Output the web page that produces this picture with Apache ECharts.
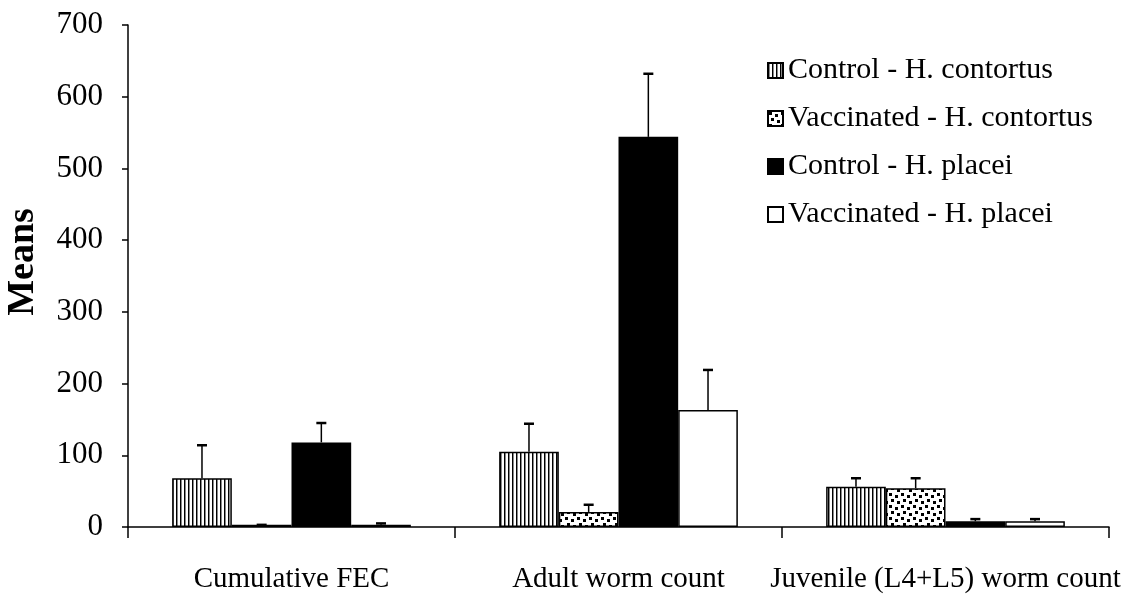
<!DOCTYPE html>
<html>
<head>
<meta charset="utf-8">
<script src="https://cdn.jsdelivr.net/npm/echarts@6/dist/echarts.min.js"></script>
<style>html,body{margin:0;padding:0;background:#fff}#c{width:1133px;height:596px}</style>
</head>
<body>
<div id="c"></div>
<script>
const categories = ['Cumulative FEC', 'Adult worm count', 'Juvenile (L4+L5) worm count'];
const seriesNames = ['Control - H. contortus', 'Vaccinated - H. contortus', 'Control - H. placei', 'Vaccinated - H. placei'];
const controlContortus = [68, 105, 56];
const vaccinatedContortus = [3, 21, 54];
const controlPlacei = [118, 544, 8];
const vaccinatedPlacei = [3, 163, 8];
const errControlContortus = [46, 39, 12];
const errVaccinatedContortus = [0, 10, 14];
const errControlPlacei = [27, 88, 3];
const errVaccinatedPlacei = [2, 56, 3];
const yTicks = [0, 100, 200, 300, 400, 500, 600, 700];

const values = [controlContortus, vaccinatedContortus, controlPlacei, vaccinatedPlacei];
const errors = [errControlContortus, errVaccinatedContortus, errControlPlacei, errVaccinatedPlacei];

function stripePattern() {
  const c = document.createElement('canvas');
  c.width = 4; c.height = 4;
  const g = c.getContext('2d');
  g.fillStyle = '#fff'; g.fillRect(0, 0, 4, 4);
  g.fillStyle = '#000'; g.fillRect(0, 0, 1, 4);
  g.fillStyle = '#888'; g.fillRect(1, 0, 1, 4);
  return c;
}
function dotPattern() {
  const c = document.createElement('canvas');
  c.width = 12; c.height = 12;
  const g = c.getContext('2d');
  g.fillStyle = '#fff'; g.fillRect(0, 0, 12, 12);
  g.fillStyle = '#000';
  [[1,1],[7,3],[3,7],[9,9]].forEach(p => g.fillRect(p[0], p[1], 3, 3));
  return c;
}
const fills = [
  { image: stripePattern(), repeat: 'repeat' },
  { image: dotPattern(), repeat: 'repeat' },
  '#000',
  '#fff'
];

const GAP = 0.27;
const FONT = 'Liberation Serif';

const series = [];
seriesNames.forEach((name, k) => {
  series.push({
    name: name,
    type: 'bar',
    data: values[k],
    barGap: '0%',
    barCategoryGap: (GAP * 100) + '%',
    itemStyle: { color: fills[k], borderColor: '#000', borderWidth: 1.5 },
    emphasis: { disabled: true },
    z: 2
  });
});
seriesNames.forEach((name, k) => {
  series.push({
    name: name + ' err',
    type: 'custom',
    z: 5,
    silent: true,
    data: values[k].map((v, i) => [i, v, errors[k][i]]),
    encode: { x: 0, y: 1 },
    renderItem: function (params, api) {
      const ci = api.value(0), v = api.value(1), e = api.value(2);
      const base = api.coord([ci, v]);
      const top = api.coord([ci, v + e]);
      const band = api.size([1, 0])[0];
      const total = band * (1 - GAP);
      const bw = total / 4;
      const x = base[0] - total / 2 + bw * (k + 0.5);
      const st = { stroke: '#000', lineWidth: 1.5 };
      return {
        type: 'group',
        children: [
          { type: 'line', shape: { x1: x, y1: base[1], x2: x, y2: top[1] }, style: st },
          { type: 'line', shape: { x1: x - 5, y1: top[1], x2: x + 5, y2: top[1] }, style: { stroke: '#000', lineWidth: 2.5 } }
        ]
      };
    }
  });
});

const chart = echarts.init(document.getElementById('c'));
chart.setOption({
  animation: false,
  backgroundColor: '#fff',
  textStyle: { fontFamily: FONT },
  grid: { left: 128, right: 24, top: 25, bottom: 69, containLabel: false, outerBoundsMode: 'none' },
  legend: {
    data: seriesNames,
    orient: 'vertical',
    left: 762,
    top: 50,
    itemWidth: 15,
    itemHeight: 15,
    itemGap: 17,
    icon: 'rect',
    selectedMode: false,
    textStyle: { fontFamily: FONT, fontSize: 30, color: '#000', lineHeight: 31 }
  },
  xAxis: {
    type: 'category',
    data: categories,
    axisLine: { lineStyle: { color: '#000', width: 1.5 } },
    axisTick: { show: true, length: 11, lineStyle: { color: '#000', width: 1.5 } },
    axisLabel: { color: '#000', fontFamily: FONT, fontSize: 29, margin: 38, interval: 0 }
  },
  yAxis: {
    type: 'value',
    min: 0,
    max: 700,
    interval: 100,
    name: 'Means',
    nameLocation: 'middle',
    nameRotate: 90,
    nameGap: 86,
    nameTextStyle: { fontFamily: FONT, fontSize: 38, fontWeight: 'bold', color: '#000', padding: [0, 0, 0, 28] },
    axisLine: { show: true, lineStyle: { color: '#000', width: 1.5 } },
    axisTick: { show: true, length: 6, lineStyle: { color: '#000', width: 1.5 } },
    splitLine: { show: false },
    axisLabel: {
      color: '#000', fontFamily: FONT, fontSize: 31, margin: 25,
      formatter: function (v) { return yTicks.indexOf(v) >= 0 ? String(v) : ''; }
    }
  },
  series: series
});
</script>
</body>
</html>
